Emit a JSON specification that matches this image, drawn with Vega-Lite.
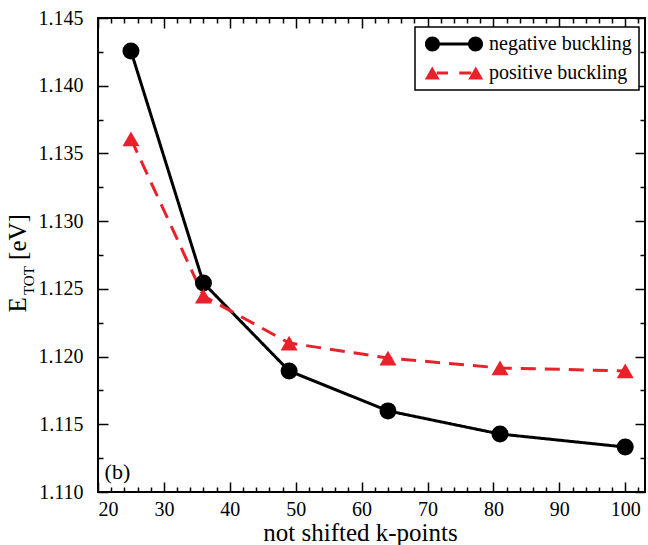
{
  "$schema": "https://vega.github.io/schema/vega-lite/v6.json",
  "width": 547,
  "height": 474,
  "autosize": {"type": "none"},
  "padding": {"left": 98, "top": 18, "right": 3, "bottom": 53},
  "background": "white",
  "config": {
    "font": "Liberation Serif",
    "view": {"stroke": "black", "strokeWidth": 2},
    "axis": {"labelFont": "Liberation Serif", "titleFont": "Liberation Serif", "labelColor": "black", "titleColor": "black", "tickColor": "black", "domain": false, "grid": false, "titleFontWeight": "normal"},
    "legend": {"labelFont": "Liberation Serif"}
  },
  "datasets": {
    "d": [
      {"k": 25, "E": 1.14256, "series": "negative buckling"},
      {"k": 36, "E": 1.12543, "series": "negative buckling"},
      {"k": 49, "E": 1.11894, "series": "negative buckling"},
      {"k": 64, "E": 1.11599, "series": "negative buckling"},
      {"k": 81, "E": 1.11428, "series": "negative buckling"},
      {"k": 100, "E": 1.11332, "series": "negative buckling"},
      {"k": 25, "E": 1.13607, "series": "positive buckling"},
      {"k": 36, "E": 1.12447, "series": "positive buckling"},
      {"k": 49, "E": 1.121, "series": "positive buckling"},
      {"k": 64, "E": 1.11989, "series": "positive buckling"},
      {"k": 81, "E": 1.11916, "series": "positive buckling"},
      {"k": 100, "E": 1.11894, "series": "positive buckling"}
    ]
  },
  "data": {"name": "d"},
  "resolve": {"axis": {"x": "independent", "y": "independent"}, "legend": {"color": "independent"}},
  "layer": [
    {
      "mark": {"type": "line", "strokeWidth": 3},
      "encoding": {
        "x": {"field": "k", "type": "quantitative", "scale": {"domain": [20, 103], "nice": false, "zero": false},
          "axis": {"orient": "bottom", "values": [20, 30, 40, 50, 60, 70, 80, 90, 100], "ticks": false, "labelFont": "Liberation Serif", "labelFontSize": 20, "labelPadding": 7, "title": "not shifted k-points", "titleFont": "Liberation Serif", "titleFontSize": 25, "titleBaseline": "alphabetic", "titleX": 262, "titleY": 48}},
        "y": {"field": "E", "type": "quantitative", "scale": {"domain": [1.11, 1.145], "nice": false, "zero": false},
          "axis": {"orient": "left", "values": [1.11, 1.115, 1.12, 1.125, 1.13, 1.135, 1.14, 1.145], "format": ".3f", "ticks": false, "labelFont": "Liberation Serif", "labelFontSize": 20, "labelPadding": 15, "title": null}},
        "color": {"field": "series", "type": "nominal", "scale": {"domain": ["negative buckling", "positive buckling"], "range": ["black", "#e8212b"]},
          "legend": {"orient": "none", "legendX": 317, "legendY": 9, "title": null, "strokeColor": "black", "fillColor": "white", "padding": 7, "rowPadding": 9, "labelFont": "Liberation Serif", "labelFontSize": 20, "labelColor": "black", "labelLimit": 300, "symbolSize": 225, "symbolOffset": 22, "labelOffset": 25,
            "encode": {
              "legend": {"update": {"strokeWidth": {"value": 1.5}}},
              "symbols": {"update": {
              "shape": {"signal": "datum.value === 'negative buckling' ? 'M-3.87,0A1,1 0 1,1 -1.87,0A1,1 0 1,1 -3.87,0ZM1.87,0A1,1 0 1,1 3.87,0A1,1 0 1,1 1.87,0ZM-1.95,-0.2L1.95,-0.2L1.95,0.2L-1.95,0.2Z' : 'M-2.9,-0.87L-1.9,0.87L-3.9,0.87ZM2.9,-0.87L3.9,0.87L1.9,0.87ZM-2.3,-0.2L-0.8,-0.2L-0.8,0.2L-2.3,0.2ZM0.7,-0.2L2.3,-0.2L2.3,0.2L0.7,0.2Z'"},
              "fill": {"signal": "datum.value === 'negative buckling' ? 'black' : '#e8212b'"},
              "fillOpacity": {"value": 1},
              "opacity": {"value": 1},
              "strokeWidth": {"value": 0},
              "size": {"value": 225}
            }}}}},
        "strokeDash": {"field": "series", "type": "nominal", "scale": {"domain": ["negative buckling", "positive buckling"], "range": [[1, 0], [15, 9]]}, "legend": null}
      }
    },
    {
      "mark": {"type": "point", "filled": true, "opacity": 1, "size": 289},
      "encoding": {
        "x": {"field": "k", "type": "quantitative", "scale": {"domain": [20, 103], "nice": false, "zero": false},
          "axis": {"orient": "bottom", "values": [20, 30, 40, 50, 60, 70, 80, 90, 100], "labels": false, "tickSize": -10, "tickWidth": 1.5, "title": null}},
        "y": {"field": "E", "type": "quantitative", "scale": {"domain": [1.11, 1.145], "nice": false, "zero": false},
          "axis": {"orient": "left", "values": [1.11, 1.115, 1.12, 1.125, 1.13, 1.135, 1.14, 1.145], "labels": false, "tickSize": -10, "tickWidth": 1.5, "title": null}},
        "color": {"field": "series", "type": "nominal", "scale": {"domain": ["negative buckling", "positive buckling"], "range": ["black", "#e8212b"]}, "legend": null},
        "shape": {"field": "series", "type": "nominal", "scale": {"domain": ["negative buckling", "positive buckling"], "range": ["circle", "triangle-up"]}, "legend": null}
      }
    },
    {
      "mark": {"type": "point", "opacity": 0},
      "encoding": {
        "x": {"field": "k", "type": "quantitative", "scale": {"domain": [20, 103], "nice": false, "zero": false},
          "axis": {"orient": "bottom", "values": [22, 24, 26, 28, 32, 34, 36, 38, 42, 44, 46, 48, 52, 54, 56, 58, 62, 64, 66, 68, 72, 74, 76, 78, 82, 84, 86, 88, 92, 94, 96, 98, 102], "labels": false, "tickSize": -5, "tickWidth": 1.5, "title": null}},
        "y": {"field": "E", "type": "quantitative", "scale": {"domain": [1.11, 1.145], "nice": false, "zero": false},
          "axis": {"orient": "left", "values": [1.1125, 1.1175, 1.1225, 1.1275, 1.1325, 1.1375, 1.1425], "labels": false, "tickSize": -5, "tickWidth": 1.5, "title": null}}
      }
    },
    {
      "mark": {"type": "point", "opacity": 0},
      "encoding": {
        "x": {"field": "k", "type": "quantitative", "scale": {"domain": [20, 103], "nice": false, "zero": false},
          "axis": {"orient": "top", "values": [20, 30, 40, 50, 60, 70, 80, 90, 100], "labels": false, "tickSize": -10, "tickWidth": 1.5, "title": null}},
        "y": {"field": "E", "type": "quantitative", "scale": {"domain": [1.11, 1.145], "nice": false, "zero": false},
          "axis": {"orient": "right", "values": [1.11, 1.115, 1.12, 1.125, 1.13, 1.135, 1.14, 1.145], "labels": false, "tickSize": -10, "tickWidth": 1.5, "title": null}}
      }
    },
    {
      "mark": {"type": "point", "opacity": 0},
      "encoding": {
        "x": {"field": "k", "type": "quantitative", "scale": {"domain": [20, 103], "nice": false, "zero": false},
          "axis": {"orient": "top", "values": [22, 24, 26, 28, 32, 34, 36, 38, 42, 44, 46, 48, 52, 54, 56, 58, 62, 64, 66, 68, 72, 74, 76, 78, 82, 84, 86, 88, 92, 94, 96, 98, 102], "labels": false, "tickSize": -5, "tickWidth": 1.5, "title": null}},
        "y": {"field": "E", "type": "quantitative", "scale": {"domain": [1.11, 1.145], "nice": false, "zero": false},
          "axis": {"orient": "right", "values": [1.1125, 1.1175, 1.1225, 1.1275, 1.1325, 1.1375, 1.1425], "labels": false, "tickSize": -5, "tickWidth": 1.5, "title": null}}
      }
    },
    {
      "data": {"values": [{}]},
      "mark": {"type": "text", "text": "E", "angle": 270, "font": "Liberation Serif", "fontSize": 25, "align": "center", "baseline": "alphabetic", "color": "black"},
      "encoding": {
        "x": {"datum": 9.1, "type": "quantitative", "axis": null},
        "y": {"datum": 1.12381, "type": "quantitative", "axis": null}
      }
    },
    {
      "data": {"values": [{}]},
      "mark": {"type": "text", "text": "TOT", "angle": 270, "font": "Liberation Serif", "fontSize": 15, "align": "center", "baseline": "alphabetic", "color": "black"},
      "encoding": {
        "x": {"datum": 10.3, "type": "quantitative", "axis": null},
        "y": {"datum": 1.12561, "type": "quantitative", "axis": null}
      }
    },
    {
      "data": {"values": [{}]},
      "mark": {"type": "text", "text": "[eV]", "angle": 270, "font": "Liberation Serif", "fontSize": 25, "align": "center", "baseline": "alphabetic", "color": "black"},
      "encoding": {
        "x": {"datum": 9.1, "type": "quantitative", "axis": null},
        "y": {"datum": 1.12883, "type": "quantitative", "axis": null}
      }
    },
    {
      "data": {"values": [{}]},
      "mark": {"type": "text", "text": "(b)", "font": "Liberation Serif", "fontSize": 22, "align": "left", "baseline": "alphabetic", "color": "black"},
      "encoding": {
        "x": {"datum": 21.0, "type": "quantitative", "axis": null},
        "y": {"datum": 1.11096, "type": "quantitative", "axis": null}
      }
    }
  ]
}
